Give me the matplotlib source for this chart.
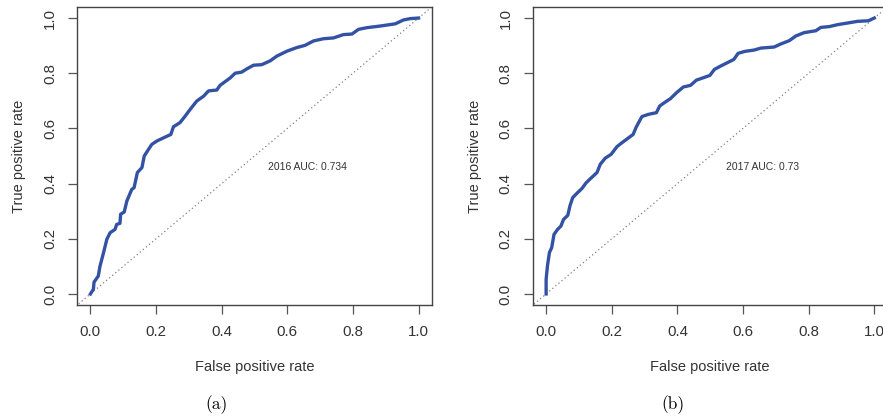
"""
ROC curves for the 2016 and 2017 models, side by side
"""
import matplotlib
matplotlib.use("Agg")
import matplotlib.pyplot as plt

# ROC points
fpr_2016 = [0, 0.009, 0.011, 0.024, 0.029, 0.04, 0.05, 0.06, 0.075, 0.08, 0.09, 0.092, 0.103,
            0.111, 0.126, 0.133, 0.143, 0.157, 0.164, 0.177, 0.187, 0.202, 0.223, 0.245, 0.253,
            0.273, 0.289, 0.304, 0.324, 0.345, 0.36, 0.385, 0.395, 0.426, 0.441, 0.461, 0.477,
            0.497, 0.522, 0.548, 0.568, 0.599, 0.629, 0.654, 0.68, 0.71, 0.741, 0.771, 0.797,
            0.817, 0.842, 0.883, 0.929, 0.954, 0.975, 1]
tpr_2016 = [0, 0.017, 0.043, 0.065, 0.10, 0.15, 0.198, 0.222, 0.234, 0.252, 0.256, 0.289, 0.297,
            0.337, 0.379, 0.385, 0.44, 0.458, 0.50, 0.524, 0.542, 0.554, 0.566, 0.578, 0.606,
            0.621, 0.645, 0.669, 0.699, 0.717, 0.736, 0.739, 0.756, 0.783, 0.80, 0.804, 0.816,
            0.829, 0.831, 0.845, 0.862, 0.88, 0.893, 0.901, 0.917, 0.925, 0.928, 0.94, 0.942,
            0.959, 0.965, 0.971, 0.979, 0.993, 0.998, 1]

fpr_2017 = [0, 0, 0.004, 0.01, 0.017, 0.024, 0.035, 0.045, 0.053, 0.066, 0.073, 0.081, 0.094,
            0.109, 0.122, 0.136, 0.155, 0.165, 0.18, 0.198, 0.216, 0.231, 0.248, 0.265, 0.275,
            0.292, 0.312, 0.336, 0.346, 0.36, 0.379, 0.397, 0.418, 0.44, 0.458, 0.48, 0.499,
            0.513, 0.532, 0.552, 0.572, 0.585, 0.605, 0.634, 0.654, 0.695, 0.715, 0.741, 0.761,
            0.786, 0.822, 0.837, 0.863, 0.888, 0.924, 0.949, 0.982, 1]
tpr_2017 = [0, 0.053, 0.101, 0.15, 0.168, 0.216, 0.234, 0.246, 0.27, 0.285, 0.321, 0.349, 0.365,
            0.382, 0.403, 0.419, 0.44, 0.47, 0.492, 0.506, 0.534, 0.548, 0.563, 0.578, 0.606,
            0.643, 0.651, 0.657, 0.681, 0.693, 0.708, 0.729, 0.75, 0.756, 0.775, 0.784, 0.792,
            0.814, 0.826, 0.838, 0.85, 0.872, 0.879, 0.884, 0.891, 0.895, 0.906, 0.918, 0.935,
            0.947, 0.954, 0.966, 0.969, 0.976, 0.983, 0.988, 0.99, 1]

auc_labels = ["2016 AUC: 0.734", "2017 AUC: 0.73"]
captions = ["(a)", "(b)"]
ticks = [0.0, 0.2, 0.4, 0.6, 0.8, 1.0]

plt.rcParams['font.family'] = ['Liberation Sans', 'DejaVu Sans']

fig = plt.figure(figsize=(8.83, 4.19), dpi=100)
W, H = 883, 419

panels = [(fpr_2016, tpr_2016, 77.3), (fpr_2017, tpr_2017, 533.0)]
for i, (fpr, tpr, left_px) in enumerate(panels):
    ax = fig.add_axes([left_px / W, 1 - 305 / H, 354.4 / W, 298 / H])
    ax.plot([-1, 2], [-1, 2], color='#808080', lw=0.9, ls=(0, (1, 2.2)))
    ax.plot(fpr, tpr, color='#3352A4', lw=2.4, solid_joinstyle='round')
    ax.set_xlim(-0.04, 1.04)
    ax.set_ylim(-0.04, 1.04)
    ax.set_xticks(ticks)
    ax.set_yticks(ticks)
    ax.set_xticklabels([f"{t:.1f}" for t in ticks])
    ax.set_yticklabels([f"{t:.1f}" for t in ticks], rotation=90, va='center')
    ax.tick_params(length=6.5, width=0.9, color='#555555', labelcolor='#333333',
                   labelsize=10.8, pad=8)
    for s in ax.spines.values():
        s.set_color('#444444')
        s.set_linewidth(1.0)
    ax.text(0.66, 0.46, auc_labels[i], fontsize=7.5, color='#333333',
            ha='center', va='center')
    ax.set_xlabel('False positive rate', fontsize=10.5, color='#333333', labelpad=15)
    ax.set_ylabel('True positive rate', fontsize=10.5, color='#333333', labelpad=12)

for cx, cap in zip([217, 673], captions):
    fig.text(cx / W, 1 - 405 / H, cap, family='cmr10', fontsize=12.5,
             ha='center', va='center')

fig.savefig('out.png', dpi=100)
